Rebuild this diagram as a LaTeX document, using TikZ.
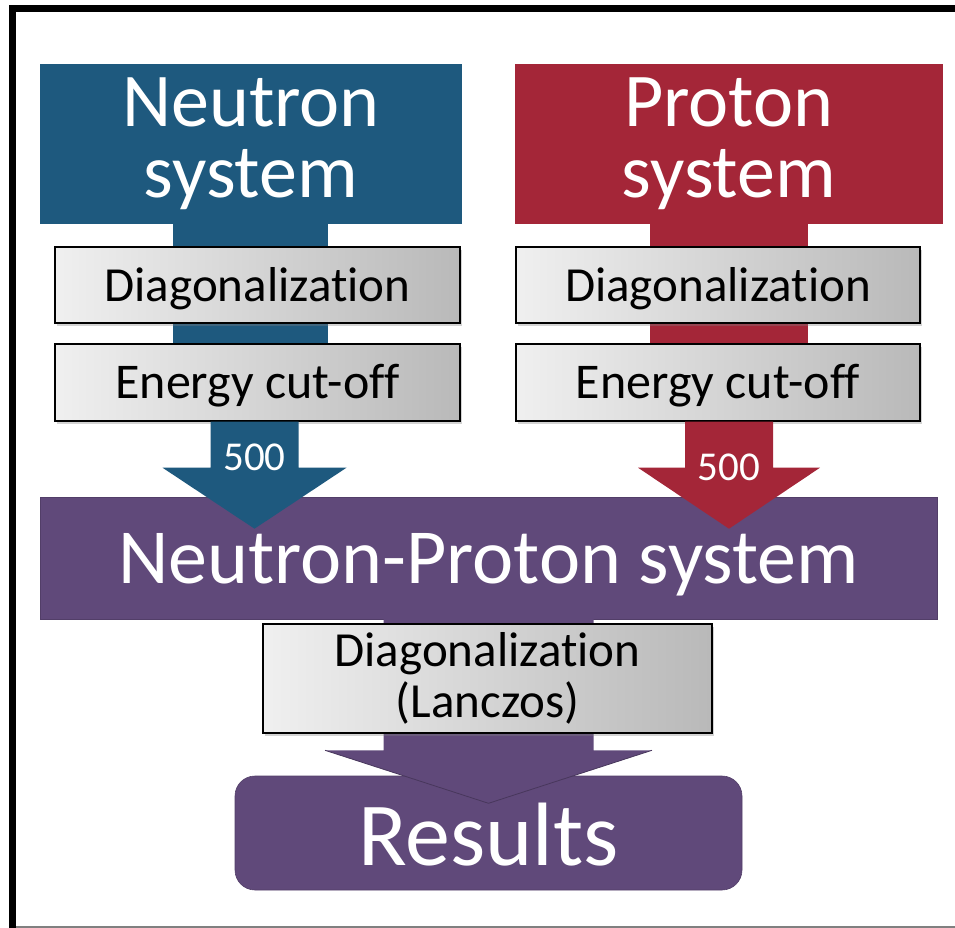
\documentclass[tikz,border=0pt]{standalone}
\usepackage{fontspec}
\setmainfont{Carlito}[Ligatures=NoCommon]
\usetikzlibrary{calc,shadows}
\definecolor{nblue}{RGB}{30,89,126}
\definecolor{pred}{RGB}{164,38,56}
\definecolor{npurp}{RGB}{96,73,122}
\pgfdeclarelayer{back}
\pgfsetlayers{back,main}
\begin{document}
\begin{tikzpicture}[x=1pt,y=-1pt,
  sysbox/.style={rectangle, inner sep=0pt, text=white, align=center,
    font=\fontsize{76}{71}\selectfont},
  bigbox/.style={rectangle, inner sep=0pt, fill=npurp, text=white,
    draw=npurp!85!black, line width=.6pt},
  stepbox/.style={rectangle, inner sep=0pt, draw=black, line width=1.4pt,
    left color=gray!12, middle color=gray!4, right color=gray!55,
    drop shadow={opacity=.35, shadow xshift=2pt, shadow yshift=-3pt},
    align=center, font=\fontsize{49}{51}\selectfont},
  numlab/.style={text=white, inner sep=0pt, anchor=base,
    font=\fontsize{41}{41}\selectfont},
  headedge/.style={npurp!75!black, line width=.8pt}]
\useasboundingbox (0,0) rectangle (955,928);

% frame
\draw[line width=7pt] (12.5,928) -- (12.5,9) -- (955,9);
\draw[gray, line width=2pt] (16,927) -- (955,927);

% the two single-particle systems
\node[sysbox, fill=nblue, minimum width=422pt, minimum height=160pt] (nsys) at (251,144) {Neutron\\system};
\node[sysbox, fill=pred, minimum width=428pt, minimum height=160pt] (psys) at (729,144) {Proton\\system};

% combined system and results
\node[bigbox, minimum width=897pt, minimum height=122pt, text height=50pt, text depth=0pt,
  font=\fontsize{78}{78}\selectfont] (np) at (488.5,558) {Neutron-Proton system};
\node[bigbox, rounded corners=20pt, minimum width=507pt, minimum height=114pt,
  text height=64pt, text depth=0pt, font=\fontsize{90}{90}\selectfont] (res) at (488.5,833) {Results};

% processing steps
\node[stepbox, minimum width=405pt, minimum height=76pt, text height=32pt, text depth=0pt] (nd) at (257.5,285) {Diagonalization};
\node[stepbox, minimum width=405pt, minimum height=77pt, text height=31pt, text depth=0pt,
  font=\fontsize{50}{51}\selectfont] (ne) at (257.5,382.5) {Energy cut-off};
\node[stepbox, minimum width=404pt, minimum height=76pt, text height=32pt, text depth=0pt] (pd) at (718,285) {Diagonalization};
\node[stepbox, minimum width=404pt, minimum height=77pt, text height=31pt, text depth=0pt,
  font=\fontsize{50}{51}\selectfont] (pe) at (718,382.5) {Energy cut-off};

% wide shafts behind the step boxes
\begin{pgfonlayer}{back}
  \fill[nblue] ($(nsys.south)+(-78,-2)$) rectangle ($(nsys.south |- ne.center)+(77,0)$);
  \fill[pred] ($(psys.south)+(-79,-2)$) rectangle ($(psys.south |- pe.center)+(79,0)$);
\end{pgfonlayer}

% block arrows into the combined system
\coordinate (nA) at ($(ne.south)+(-3,0)$);
\fill[nblue] ($(nA)+(-44,0)$) -- ($(nA)+(44,0)$) -- ($(nA)+(44,46)$) -- ($(nA)+(92,46)$)
  -- ($(nA)+(0,107)$) -- ($(nA)+(-92,46)$) -- ($(nA)+(-44,46)$) -- cycle;
\coordinate (rA) at ($(pe.south)+(11,0)$);
\fill[pred] ($(rA)+(-44,0)$) -- ($(rA)+(44,0)$) -- ($(rA)+(44,46)$) -- ($(rA)+(91,46)$)
  -- ($(rA)+(0,107)$) -- ($(rA)+(-91,46)$) -- ($(rA)+(-44,46)$) -- cycle;
\node[numlab] (n500) at (254.5,470) {500};
\node[numlab] (p500) at (729,480) {500};

% block arrow to the results
\coordinate (pA) at (np.south);
\fill[npurp] ($(pA)+(-105,-1)$) -- ($(pA)+(105,-1)$) -- ($(pA)+(105,131)$) -- ($(pA)+(163.5,131)$)
  -- ($(pA)+(0,184)$) -- ($(pA)+(-163.5,131)$) -- ($(pA)+(-105,131)$) -- cycle;
\draw[headedge] ($(pA)+(-163.5,131)$) -- ($(pA)+(0,184)$) -- ($(pA)+(163.5,131)$);

\node[stepbox, minimum width=449pt, minimum height=109pt] (lz) at (487.5,678.5) {Diagonalization\\(Lanczos)};
\end{tikzpicture}
\end{document}
